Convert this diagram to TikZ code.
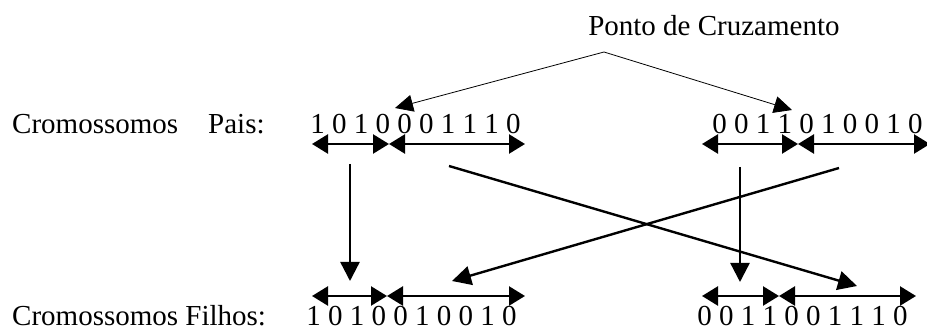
\documentclass[tikz,border=0pt]{standalone}
\usepackage{fontspec}
\setmainfont{Liberation Serif}
\usetikzlibrary{arrows.meta}

\begin{document}
\begin{tikzpicture}[x=1pt,y=-1pt,line width=.5pt,
  rotulo/.style={anchor=base west,inner sep=0pt,font=\fontsize{29}{32}\selectfont},
  segm/.style={line width=2.4pt,{Triangle[length=16pt,width=19pt]}-{Triangle[length=16pt,width=19pt]}},
  troca/.style={line width=2.4pt,-{Triangle[length=19pt,width=19pt]}},
  corte/.style={line width=.8pt,-{Triangle[length=18pt,width=17pt]}}]
\path[use as bounding box] (0,0) rectangle (927,331);
% textos
\node[rotulo] (titulo) at (588,36) {Ponto de Cruzamento};
\node[rotulo] (pais) at (12,134) {Cromossomos\hspace{30pt}Pais:};
\node[rotulo] (filhos) at (12,325) {Cromossomos Filhos:};
\node[rotulo] (pai1) at (310,134) {1 0 1 0 0 0 1 1 1 0};
\node[rotulo] (pai2) at (712,134) {0 0 1 1 0 1 0 0 1 0};
\node[rotulo] (filho1) at (306,325) {1 0 1 0 0 1 0 0 1 0};
\node[rotulo] (filho2) at (697,325) {0 0 1 1 0 0 1 1 1 0};
% ponto de cruzamento
\coordinate (cruz) at (604,52);
\coordinate (cp1) at (395,108);
\coordinate (cp2) at (792,110);
\draw[corte] (cruz) -- (cp1);
\draw[corte] (cruz) -- (cp2);
% segmentos dos pais
\coordinate (p1a) at (312,144);
\coordinate (p1b) at (389,144);
\coordinate (p1c) at (525,144);
\coordinate (p2a) at (702,144);
\coordinate (p2b) at (798,144);
\coordinate (p2c) at (930,144);
\draw[segm] (p1a) -- (p1b);
\draw[segm] (p1b) -- (p1c);
\draw[segm] (p2a) -- (p2b);
\draw[segm] (p2b) -- (p2c);
% segmentos dos filhos
\coordinate (f1a) at (312,296);
\coordinate (f1b) at (387,296);
\coordinate (f1c) at (525,296);
\coordinate (f2a) at (702,296);
\coordinate (f2b) at (779,296);
\coordinate (f2c) at (916,296);
\draw[segm] (f1a) -- (f1b);
\draw[segm] (f1b) -- (f1c);
\draw[segm] (f2a) -- (f2b);
\draw[segm] (f2b) -- (f2c);
% troca das partes
\coordinate (s1) at (350,164);
\coordinate (e1) at (350,281);
\coordinate (s2) at (740,167);
\coordinate (e2) at (740,282);
\coordinate (s3) at (449,166);
\coordinate (e3) at (857,286);
\coordinate (s4) at (839,168);
\coordinate (e4) at (452,281);
\draw[troca] (s1) -- (e1);
\draw[troca] (s2) -- (e2);
\draw[troca] (s3) -- (e3);
\draw[troca] (s4) -- (e4);
\end{tikzpicture}
\end{document}
